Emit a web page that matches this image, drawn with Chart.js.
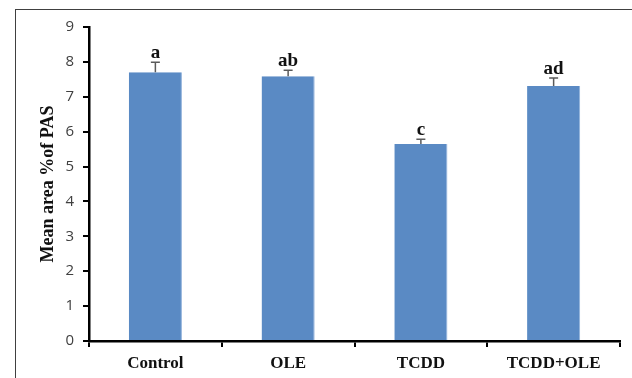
<!DOCTYPE html>
<html>
<head>
<meta charset="utf-8">
<script src="https://cdn.jsdelivr.net/npm/chart.js@4"></script>
<style>
  html, body { margin: 0; padding: 0; background: #fff; }
  #wrap { position: relative; width: 632px; height: 378px; overflow: hidden; }
  #frame { position: absolute; left: 15px; top: 9px; width: 700px; height: 500px;
           border-left: 1.5px solid #404040; border-top: 1.5px solid #404040; }
  canvas { position: absolute; left: 0; top: 0; }
</style>
</head>
<body>
<div id="wrap">
  <div id="frame"></div>
  <canvas id="chart" width="632" height="378"></canvas>
</div>
<script>
// ── data ─────────────────────────────────────────
const groups = ['Control', 'OLE', 'TCDD', 'TCDD+OLE'];
const meanArea = [7.70, 7.59, 5.65, 7.31];
const sem = [0.29, 0.17, 0.13, 0.23];
const sigLetters = ['a', 'ab', 'c', 'ad'];
const yTicks = [0, 1, 2, 3, 4, 5, 6, 7, 8, 9];

const SERIF = "'Liberation Serif','Times New Roman',serif";

// error bars (upper only) + significance letters
const errorBars = {
  id: 'errorBars',
  afterDatasetsDraw(chart) {
    const { ctx, scales: { x, y } } = chart;
    ctx.save();
    meanArea.forEach((v, i) => {
      const cx = x.getPixelForValue(i);
      const y0 = y.getPixelForValue(v);
      const y1 = y.getPixelForValue(v + sem[i]);
      ctx.strokeStyle = '#5a5a5a';
      ctx.lineWidth = 1.5;
      ctx.beginPath();
      ctx.moveTo(cx, y0);
      ctx.lineTo(cx, y1);
      ctx.moveTo(cx - 4.5, y1);
      ctx.lineTo(cx + 4.5, y1);
      ctx.stroke();
      ctx.fillStyle = '#111';
      ctx.font = 'bold 19px ' + SERIF;
      ctx.textAlign = 'center';
      ctx.textBaseline = 'alphabetic';
      ctx.fillText(sigLetters[i], cx, y1 - 4);
    });
    ctx.restore();
  }
};

new Chart(document.getElementById('chart'), {
  type: 'bar',
  data: {
    labels: groups,
    datasets: [{
      data: meanArea,
      backgroundColor: '#5a8ac4',
      borderColor: '#8fb0da',
      borderWidth: { right: 1, top: 0, left: 0, bottom: 0 },
      barPercentage: 0.4,
      categoryPercentage: 1
    }]
  },
  options: {
    responsive: false,
    animation: false,
    layout: { padding: { top: 27, right: 12, left: 0, bottom: 0 } },
    plugins: { legend: { display: false }, tooltip: { enabled: false } },
    scales: {
      x: {
        offset: true,
        afterFit: s => { s.height = 37; },
        grid: { offset: true, drawOnChartArea: false, color: '#000', lineWidth: 2, tickLength: 6 },
        border: { color: '#000', width: 2.5 },
        ticks: { color: '#111', padding: 6, font: { family: SERIF, size: 17, weight: 'bold' } }
      },
      y: {
        min: 0,
        max: 9,
        afterFit: s => { s.width = 89; },
        afterBuildTicks: s => { s.ticks = yTicks.map(v => ({ value: v })); },
        grid: { drawOnChartArea: false, color: '#000', lineWidth: 2, tickLength: 6 },
        border: { color: '#000', width: 2.5 },
        ticks: { color: '#404040', padding: 9, font: { family: "'Open Sans',sans-serif", size: 15 } },
        title: {
          display: true,
          text: 'Mean area %of PAS',
          color: '#111',
          padding: { top: 38, bottom: 0 },
          font: { family: SERIF, size: 18, weight: 'bold' }
        }
      }
    }
  },
  plugins: [errorBars]
});
</script>
</body>
</html>
